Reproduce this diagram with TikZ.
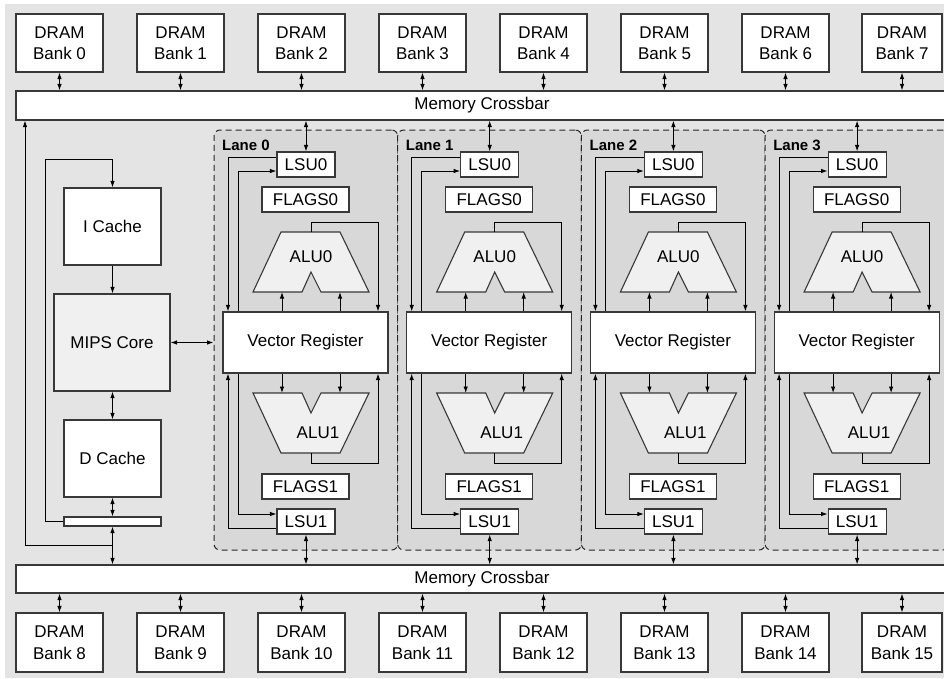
\documentclass[tikz,border=0pt]{standalone}
\usepackage{fontspec}
\setmainfont{Liberation Sans}
\usetikzlibrary{arrows.meta,calc}
\definecolor{bggray}{HTML}{E4E4E4}
\definecolor{lanegray}{HTML}{D8D8D8}
\definecolor{lightfill}{HTML}{F0F0F0}
\definecolor{edge}{HTML}{383838}
\begin{document}
\begin{tikzpicture}[x=1pt,y=-1pt,
  box/.style={draw=edge,line width=1.1pt,fill=white,inner sep=0pt,
    font=\fontsize{17}{21.5}\selectfont,align=center},
  lanebox/.style={draw=black!85,line width=1pt,fill=lanegray,dashed,
    dash pattern=on 6pt off 4pt,rounded corners=6pt,inner sep=0pt},
  alushape/.style={draw=edge,line width=1.1pt,fill=lightfill},
  lbl/.style={font=\fontsize{17}{21.5}\selectfont,inner sep=0pt},
  lanelbl/.style={font=\bfseries\fontsize{15}{18}\selectfont,inner sep=0pt,anchor=west},
  conn/.style={draw=black,line width=0.9pt},
  arr/.style={-{Latex[length=6.5pt,width=4.5pt]}},
  darr/.style={{Latex[length=6.5pt,width=4.5pt]}-{Latex[length=6.5pt,width=4.5pt]}},
]
\useasboundingbox (0,0) rectangle (944,678);
\clip (0,0) rectangle (944,678);
\fill[bggray] (5,4) rectangle (960,678);

% crossbars
\node[box,minimum width=932pt,minimum height=29pt] (xbT) at (482,105.5) {Memory Crossbar};
\node[box,minimum width=932pt,minimum height=28pt] (xbB) at (482,579) {Memory Crossbar};

% DRAM banks
\foreach \i in {0,...,6} {
  \pgfmathsetmacro\cx{59.5+121*\i}
  \pgfmathtruncatemacro\j{\i+8}
  \node[box,minimum width=87pt,minimum height=58pt] (bt\i) at (\cx,43) {DRAM\\Bank \i};
  \node[box,minimum width=87pt,minimum height=59pt] (bb\j) at (\cx,642.5) {DRAM\\Bank \j};
}
\node[box,minimum width=80pt,minimum height=58pt] (bt7) at (902,43) {DRAM\\Bank 7};
\node[box,minimum width=80pt,minimum height=59pt] (bb15) at (902,642.5) {DRAM\\Bank 15};
\foreach \i in {0,...,7} {
  \draw[conn,darr] (bt\i.south) -- (bt\i.south |- xbT.north);
}
\foreach \j in {8,...,15} {
  \draw[conn,darr] (xbB.south -| bb\j.north) -- (bb\j.north);
}

% lanes
\foreach \i in {0,...,3} {
\begin{scope}[xshift={183.7pt*\i}]
  \node[lanebox,minimum width=183.7pt,minimum height=420pt] (lane\i) at (305.85,340) {};
  \node[lanelbl] (lanelabel\i) at (222,145) {Lane \i};
  \node[box,minimum width=58pt,minimum height=25pt] (lsuA\i) at (306,164.5) {LSU0};
  \node[box,minimum width=87pt,minimum height=25pt] (flA\i) at (305.5,199.5) {FLAGS0};
  \node[box,minimum width=165pt,minimum height=61pt] (vr\i) at (305.5,342.5) {Vector Register};
  \node[box,minimum width=87pt,minimum height=25pt] (flB\i) at (305.5,486.5) {FLAGS1};
  \node[box,minimum width=58pt,minimum height=25pt] (lsuB\i) at (306,521.5) {LSU1};
  \draw[alushape] (281,232) -- (340,232) -- (369,292) -- (321,292) -- (311,272) -- (302,292) -- (253,292) -- cycle;
  \draw[alushape] (253,393) -- (302,393) -- (311,413) -- (321,393) -- (369,393) -- (340,453) -- (281,453) -- cycle;
  \node[lbl] (aluA\i) at (311,257) {ALU0};
  \node[lbl] (aluB\i) at (318,433) {ALU1};
  \coordinate (cA\i) at (228,0);
  \coordinate (cB\i) at (238,0);
  \coordinate (cL\i) at (282,0);
  \coordinate (cR\i) at (340,0);
  \coordinate (cO\i) at (378,0);
  \coordinate (a0t\i) at (311,232);
  \coordinate (a0b\i) at (0,292);
  \coordinate (a1t\i) at (0,393);
  \coordinate (a1b\i) at (311,453);
  \draw[conn,darr] (xbT.south -| lsuA\i.north) -- (lsuA\i.north);
  \draw[conn,arr] ($(lsuA\i.west)+(0,-7.5)$) -| (vr\i.north -| cA\i);
  \draw[conn,arr] (vr\i.north -| cB\i) |- ($(lsuA\i.west)+(0,6.5)$);
  \draw[conn,arr] (a0t\i) -- ++(0,-10) -| (vr\i.north -| cO\i);
  \draw[conn,arr] (vr\i.north -| cL\i) -- (cL\i |- a0b\i);
  \draw[conn,arr] (vr\i.north -| cR\i) -- (cR\i |- a0b\i);
  \draw[conn,arr] (vr\i.south -| cL\i) -- (cL\i |- a1t\i);
  \draw[conn,arr] (vr\i.south -| cR\i) -- (cR\i |- a1t\i);
  \draw[conn,arr] (a1b\i) -- ++(0,10) -| (vr\i.south -| cO\i);
  \draw[conn,arr] (vr\i.south -| cB\i) |- ($(lsuB\i.west)+(0,-7.5)$);
  \draw[conn,arr] ($(lsuB\i.west)+(0,6.5)$) -| (vr\i.south -| cA\i);
  \draw[conn,darr] (lsuB\i.south) -- (lsuB\i.south |- xbB.north);
\end{scope}
}

% MIPS side
\node[box,minimum width=97pt,minimum height=77pt] (icache) at (112.5,226.5) {I Cache};
\node[box,fill=lightfill,minimum width=116pt,minimum height=97pt] (mips) at (112,342.5) {MIPS Core};
\node[box,minimum width=97pt,minimum height=77pt] (dcache) at (112.5,458.5) {D Cache};
\node[box,minimum width=97pt,minimum height=9pt] (sbar) at (112.5,521.5) {};
\draw[conn,arr] (icache.south) -- (icache.south |- mips.north);
\draw[conn,darr] (dcache.north |- mips.south) -- (dcache.north);
\draw[conn,darr] (dcache.south) -- (sbar.north);
\draw[conn,darr] (sbar.south) -- (sbar.south |- xbB.north);
\draw[conn,darr] (mips.east) -- (mips.east -| lane0.west);
\coordinate (jn) at (112.5,545);
\coordinate (lx) at (25,0);
\coordinate (ix) at (45,159);
\draw[conn,arr] (jn) -| (xbT.south -| lx);
\draw[conn,arr] (sbar.west) -| (ix) -| (icache.north);
\end{tikzpicture}
\end{document}
